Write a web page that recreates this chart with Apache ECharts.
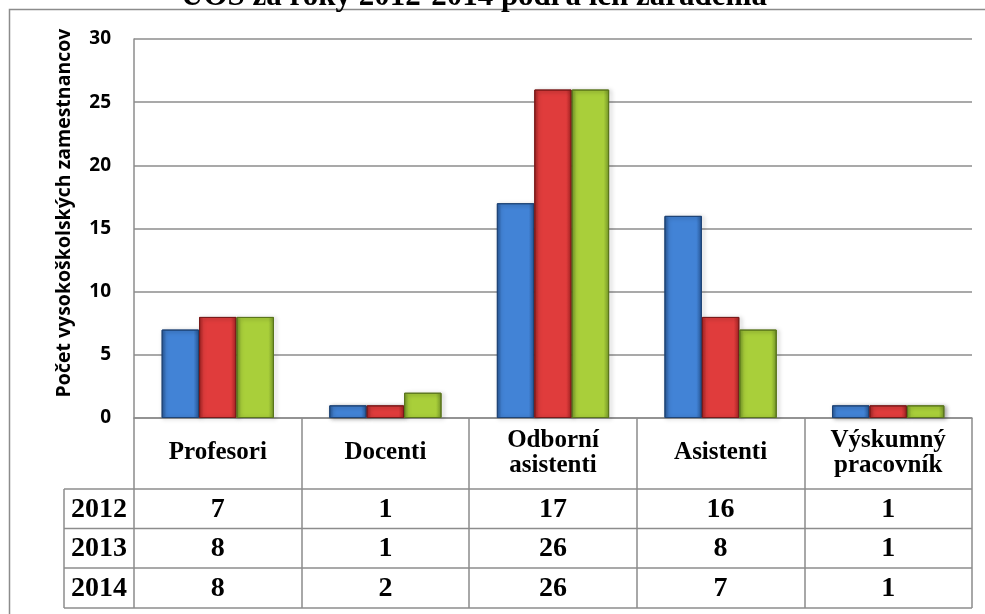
<!DOCTYPE html>
<html>
<head>
<meta charset="utf-8">
<script src="https://cdn.jsdelivr.net/npm/echarts@6/dist/echarts.min.js"></script>
<style>
html,body{margin:0;padding:0;background:#fff;}
#c{width:985px;height:614px;}
</style>
</head>
<body>
<div id="c"></div>
<script>
const titleText = 'ÚOŠ za roky 2012-2014 podľa ich zaradenia';
const yAxisName = 'Počet vysokoškolských zamestnancov';
const categories = ['Profesori', 'Docenti', 'Odborní\nasistenti', 'Asistenti', 'Výskumný\npracovník'];
const years = ['2012', '2013', '2014'];
const values2012 = [7, 1, 17, 16, 1];
const values2013 = [8, 1, 26, 8, 1];
const values2014 = [8, 2, 26, 7, 1];
const yTicks = [0, 5, 10, 15, 20, 25, 30];

const seriesValues = [values2012, values2013, values2014];
const palettes = [
  ['#285796', '#4283d6', '#285796', '#1f4476'],
  ['#a52424', '#e03c3c', '#a52424', '#7a1a1a'],
  ['#76982a', '#a9cf3a', '#76982a', '#5a751c']
];
function grad(p) {
  return {
    type: 'linear', x: 0, y: 0, x2: 1, y2: 0,
    colorStops: [
      {offset: 0, color: p[0]},
      {offset: 0.12, color: p[1]},
      {offset: 0.85, color: p[1]},
      {offset: 1, color: p[2]}
    ]
  };
}

const GRID = {left: 134, right: 13, top: 39, bottom: 196};
const serif = '"Liberation Serif", "Times New Roman", serif';
const sans = '"Open Sans", "Noto Sans", sans-serif';
const lineColor = '#8c8c8c';

const chart = echarts.init(document.getElementById('c'), null, {renderer: 'canvas'});
chart.setOption({
  animation: false,
  backgroundColor: '#fff',
  grid: GRID,
  xAxis: {
    type: 'category',
    data: categories,
    boundaryGap: true,
    axisLine: {show: true, lineStyle: {color: lineColor, width: 1.5}},
    axisTick: {show: true, alignWithLabel: false, length: 190, lineStyle: {color: lineColor, width: 1.5}},
    axisLabel: {
      interval: 0, margin: 35, verticalAlign: 'middle',
      fontFamily: serif, fontWeight: 'bold', fontSize: 25, color: '#000', lineHeight: 25
    },
    splitLine: {show: false}
  },
  yAxis: {
    type: 'value', min: 0, max: 30, interval: 5,
    axisLine: {show: true, lineStyle: {color: lineColor, width: 1.5}},
    axisTick: {show: false},
    axisLabel: {margin: 23, fontFamily: sans, fontWeight: 'bold', fontSize: 19, color: '#000',
      formatter: v => yTicks.includes(v) ? String(v) : ''},
    splitLine: {show: true, lineStyle: {color: lineColor, width: 1.5}}
  },
  series: seriesValues.map((vals, i) => ({
    type: 'bar',
    name: years[i],
    data: vals,
    barGap: '0%',
    barCategoryGap: '33%',
    itemStyle: {
      color: grad(palettes[i]),
      borderColor: palettes[i][3],
      borderWidth: 1,
      shadowColor: 'rgba(0,0,0,0.35)',
      shadowBlur: 4,
      shadowOffsetX: 2,
      shadowOffsetY: 1
    }
  }))
});

// Table and decorations
const xLeftTable = 64;
const xRight = 985 - GRID.right;
const rowTops = [489, 528.5, 568, 608];
const graphics = [];
graphics.push({type: 'polyline', silent: true,
  shape: {points: [[9.5, 614], [9.5, 9.5], [985, 9.5]]},
  style: {stroke: lineColor, lineWidth: 1.5, fill: null}});
graphics.push({type: 'text', silent: true, x: 474, y: 12,
  style: {text: titleText, font: 'bold 31px ' + serif, fill: '#000', align: 'center', verticalAlign: 'bottom'}});
graphics.push({type: 'text', silent: true, x: 64, y: 213, rotation: Math.PI / 2,
  style: {text: yAxisName, font: 'bold 19.5px ' + sans, fill: '#000', align: 'center', verticalAlign: 'middle'}});
rowTops.forEach(y => {
  graphics.push({type: 'line', silent: true,
    shape: {x1: xLeftTable, y1: y, x2: xRight, y2: y},
    style: {stroke: lineColor, lineWidth: 1.5}});
});
graphics.push({type: 'line', silent: true,
  shape: {x1: xLeftTable, y1: rowTops[0], x2: xLeftTable, y2: rowTops[3]},
  style: {stroke: lineColor, lineWidth: 1.5}});
const yAxisX = GRID.left;
seriesValues.forEach((vals, r) => {
  const yc = (rowTops[r] + rowTops[r + 1]) / 2 + 1;
  graphics.push({type: 'text', silent: true, x: (xLeftTable + yAxisX) / 2, y: yc,
    style: {text: years[r], font: 'bold 28px ' + serif, fill: '#000', align: 'center', verticalAlign: 'middle'}});
  vals.forEach((v, c) => {
    const px = chart.convertToPixel({xAxisIndex: 0}, categories[c]);
    graphics.push({type: 'text', silent: true, x: px, y: yc,
      style: {text: String(v), font: 'bold 28px ' + serif, fill: '#000', align: 'center', verticalAlign: 'middle'}});
  });
});
chart.setOption({graphic: graphics});
</script>
</body>
</html>
